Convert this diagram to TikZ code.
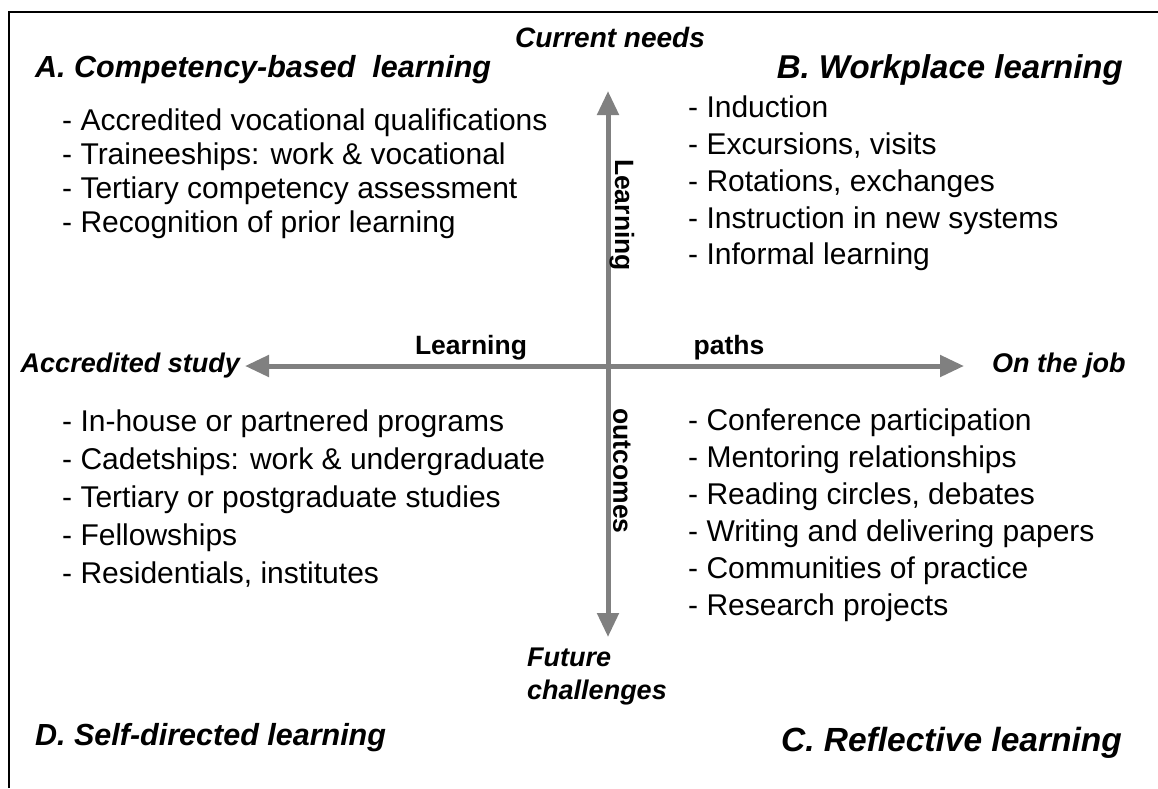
\documentclass[tikz,border=0pt]{standalone}
\usepackage{fontspec}
\setmainfont{Liberation Sans}
\usetikzlibrary{arrows.meta}
\definecolor{axisgray}{HTML}{808080}
\tikzset{
  title/.style={inner sep=0pt},
  axislabel/.style={font=\fontsize{27}{32}\selectfont\bfseries\itshape, inner sep=0pt},
  axisword/.style={font=\fontsize{26.5}{30}\selectfont\bfseries, inner sep=0pt},
  itemlist/.style={font=\fontsize{30}{34}\selectfont, align=left, inner sep=0pt, anchor=west},
  axis/.style={draw=axisgray, line width=5pt, {Triangle[width=21pt,length=24pt]}-{Triangle[width=21pt,length=24pt]}},
  frame/.style={draw=black, line width=1.6pt}
}
\begin{document}
\begin{tikzpicture}[x=1pt,y=-1pt]
\useasboundingbox (0,0) rectangle (1158,788);
\draw[frame] (9,788) -- (9,12) -- (1158,12);
% axes
\coordinate (L) at (245,366);
\coordinate (R) at (964,366);
\coordinate (T) at (608,91);
\coordinate (B) at (608,637);
\draw[axis] (L) -- (R);
\draw[axis] (T) -- (B);
% axis labels
\node[axislabel, font=\fontsize{28}{32}\selectfont\bfseries\itshape] (cn) at (610,37) {Current needs};
\node[axislabel, anchor=east] (as) at (240,366) {Accredited study};
\node[axislabel, anchor=west] (oj) at (992,366) {On the job};
\node[axislabel, align=left, anchor=west, font=\fontsize{27}{33}\selectfont\bfseries\itshape] (fc) at (527,676) {Future\\challenges};
\node[axisword] (lh) at (471,348) {Learning};
\node[axisword] (ph) at (729,348) {paths};
\node[axisword, rotate=-90] (lv) at (622,215) {Learning};
\node[axisword, rotate=-90] (ov) at (622,471) {outcomes};
% titles
\node[title, anchor=west, font=\fontsize{30.5}{34}\selectfont\bfseries\itshape] (ta) at (35,70) {A. Competency-based\ \ learning};
\node[title, anchor=east, font=\fontsize{33}{36}\selectfont\bfseries\itshape] (tb) at (1123,70) {B. Workplace learning};
\node[title, anchor=west, font=\fontsize{30.5}{34}\selectfont\bfseries\itshape] (td) at (35,738) {D. Self-directed learning};
\node[title, anchor=east, font=\fontsize{33.5}{37}\selectfont\bfseries\itshape] (tc) at (1122,743) {C. Reflective learning};
% lists
\node[itemlist] (lista) at (62,174) {- Accredited vocational qualifications\\- Traineeships: work \& vocational\\- Tertiary competency assessment\\- Recognition of prior learning};
\node[itemlist, font=\fontsize{30}{36.75}\selectfont] (listb) at (688,183.5) {- Induction\\- Excursions, visits\\- Rotations, exchanges\\- Instruction in new systems\\- Informal learning};
\node[itemlist, font=\fontsize{30}{37}\selectfont] (listc) at (688,515.5) {- Conference participation\\- Mentoring relationships\\- Reading circles, debates\\- Writing and delivering papers\\- Communities of practice\\- Research projects};
\node[itemlist, font=\fontsize{30}{38}\selectfont] (listd) at (62,499) {- In-house or partnered programs\\- Cadetships: work \& undergraduate\\- Tertiary or postgraduate studies\\- Fellowships\\- Residentials, institutes};
\end{tikzpicture}
\end{document}
